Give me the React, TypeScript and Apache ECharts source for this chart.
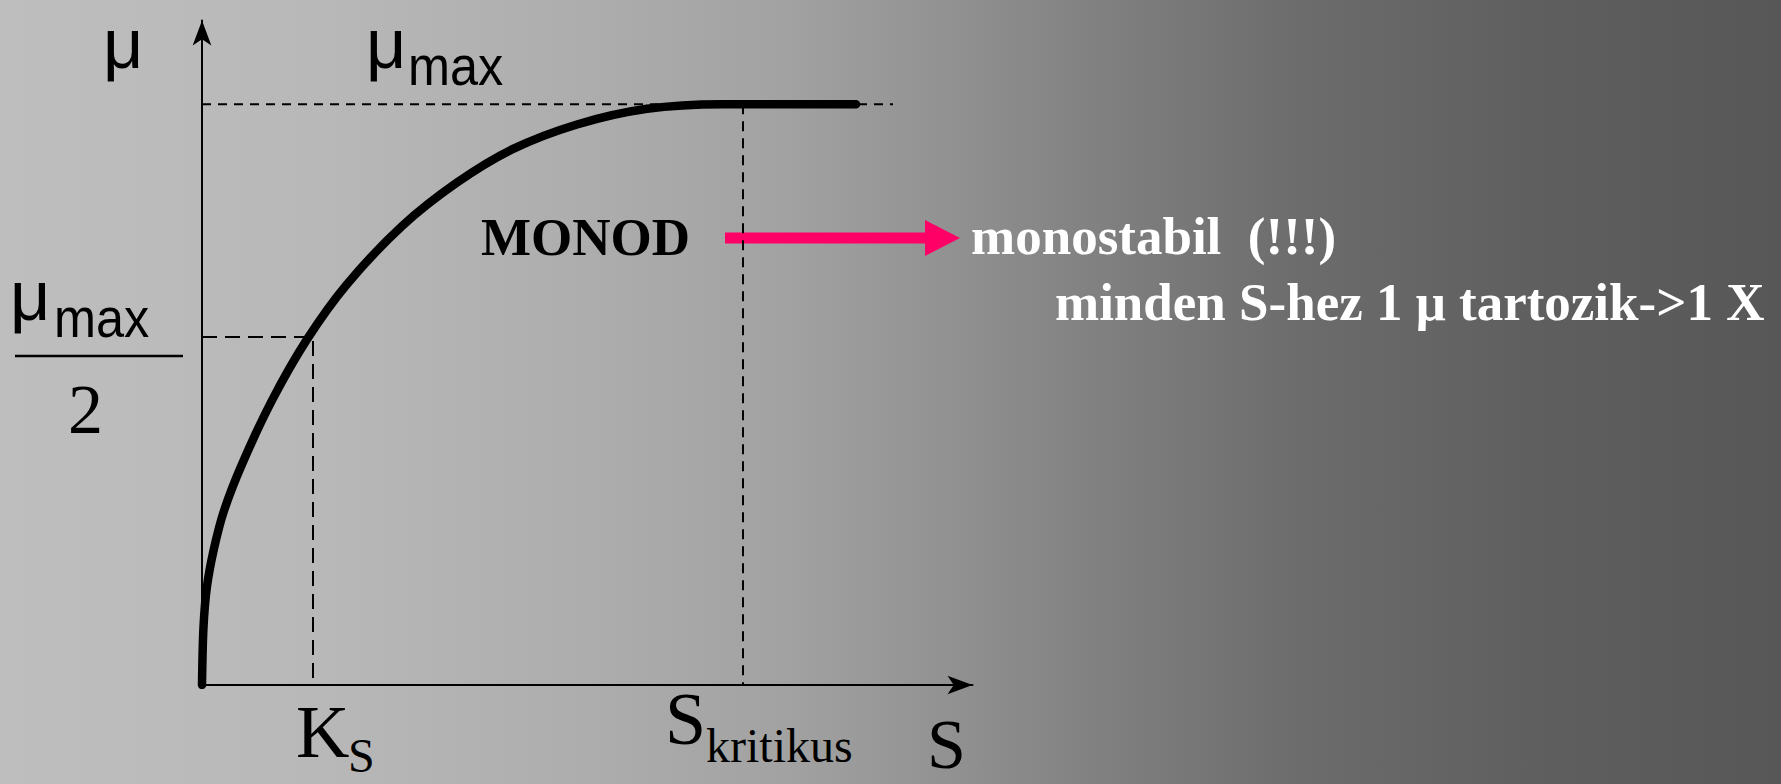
import React, { useEffect, useRef } from 'react';
import * as echarts from 'echarts';

// Monod curve (S in arbitrary units, mu relative to mu_max)
const curveS = [0, 0.015, 0.05, 0.12, 0.22, 0.4, 0.7, 1.05, 1.45, 2.0, 2.55, 3.1, 3.75, 4.45, 5.2, 6.54];
const curveMu = [0, 0.1, 0.17, 0.235, 0.3, 0.38, 0.49, 0.595, 0.69, 0.79, 0.865, 0.922, 0.965, 0.992, 1.0, 1.0];

const muMaxLevel = 1;
const muHalfLevel = 0.599;
const ksValue = 1.11;
const sKritValue = 5.41;
const muMaxLineEnd = 6.91;
const xAxisMax = 7.705;
const yAxisMax = 1.144;

const SERIF = '"Liberation Serif", "Times New Roman", serif';
const SANS = '"Liberation Sans", Arial, sans-serif';

function txt(text: string, x: number, baseline: number, size: number, family: string, opts: any = {}) {
  const k = family === SERIF ? 0.3375 : 0.3465;
  return {
    type: 'text',
    x,
    y: baseline - k * size,
    scaleX: opts.scaleX ?? 1,
    silent: true,
    style: {
      text,
      fill: opts.fill ?? '#000',
      fontSize: size,
      fontFamily: family,
      fontWeight: opts.bold ? 'bold' : 'normal',
      align: 'left',
      verticalAlign: 'middle',
    },
  };
}

export default function App() {
  const ref = useRef<HTMLDivElement>(null);
  useEffect(() => {
    const chart = echarts.init(ref.current!, null, { renderer: 'svg' });
    const curve = curveS.map((s, i) => [s, curveMu[i]]);
    const dashed = (data: number[][], dash: number[]) => ({
      type: 'line',
      data,
      symbol: 'none',
      silent: true,
      lineStyle: { color: '#000', width: 2, type: dash },
      z: 2,
    });
    const option: any = {
      animation: false,
      backgroundColor: 'transparent',
      grid: { left: 202, top: 20.5, right: 1781 - 972.5, bottom: 99, containLabel: false },
      xAxis: {
        type: 'value', min: 0, max: xAxisMax,
        axisLine: { show: true, onZero: false, symbol: ['none', 'arrow'], symbolSize: [14, 25], lineStyle: { color: '#000', width: 2 } },
        axisTick: { show: false }, axisLabel: { show: false }, splitLine: { show: false },
      },
      yAxis: {
        type: 'value', min: 0, max: yAxisMax,
        axisLine: { show: true, onZero: false, symbol: ['none', 'arrow'], symbolSize: [14, 25], lineStyle: { color: '#000', width: 2 } },
        axisTick: { show: false }, axisLabel: { show: false }, splitLine: { show: false },
      },
      series: [
        dashed([[0, muMaxLevel], [muMaxLineEnd, muMaxLevel]], [9, 7]),
        dashed([[0, muHalfLevel], [ksValue, muHalfLevel], [ksValue, 0]], [15, 8]),
        dashed([[sKritValue, muMaxLevel], [sKritValue, 0]], [10, 7]),
        {
          type: 'line',
          data: curve,
          symbol: 'none',
          smooth: 0.3,
          silent: true,
          lineStyle: { color: '#000', width: 8.5, cap: 'round', join: 'round' },
          z: 3,
        },
      ],
      graphic: [
        txt('\u03bc', 103, 68, 70, SANS),
        txt('\u03bc', 366, 68, 70, SANS),
        txt('max', 408, 85, 56, SANS, { scaleX: 0.9 }),
        txt('\u03bc', 10, 320, 70, SANS),
        txt('max', 54, 337, 56, SANS, { scaleX: 0.9 }),
        { type: 'line', silent: true, shape: { x1: 15, y1: 356, x2: 183, y2: 356 }, style: { stroke: '#000', lineWidth: 2.5 } },
        txt('2', 68, 433, 70, SERIF),
        txt('K', 296, 757, 74, SERIF),
        txt('S', 348, 772, 48, SERIF),
        txt('S', 665, 744, 74, SERIF),
        txt('kritikus', 706, 762, 48, SERIF),
        txt('S', 927, 768, 70, SERIF),
        txt('MONOD', 481, 255, 53, SERIF, { bold: true }),
        {
          type: 'group', silent: true,
          children: [
            { type: 'rect', shape: { x: 725, y: 232.5, width: 202, height: 11 }, style: { fill: '#ff0066' } },
            { type: 'polygon', shape: { points: [[925, 220], [960, 238], [925, 256]] }, style: { fill: '#ff0066' } },
          ],
        },
        txt('monostabil \u00a0(!!!)', 971, 254, 53, SERIF, { bold: true, fill: '#fff' }),
        txt('minden S-hez 1 \u03bc tartozik->1 X', 1055, 320, 53, SERIF, { bold: true, fill: '#fff' }),
      ],
    };
    chart.setOption(option);
    return () => chart.dispose();
  }, []);
  return (
    <div
      ref={ref}
      style={{
        position: 'absolute', left: 0, top: 0, width: 1781, height: 784,
        background: 'linear-gradient(to right, #bebebe 0%, #b8b8b8 18%, #adadad 33%, #a2a2a2 44%, #929292 53%, #7e7e7e 63%, #6c6c6c 73%, #5f5f5f 86%, #575757 100%)',
      }}
    />
  );
}
